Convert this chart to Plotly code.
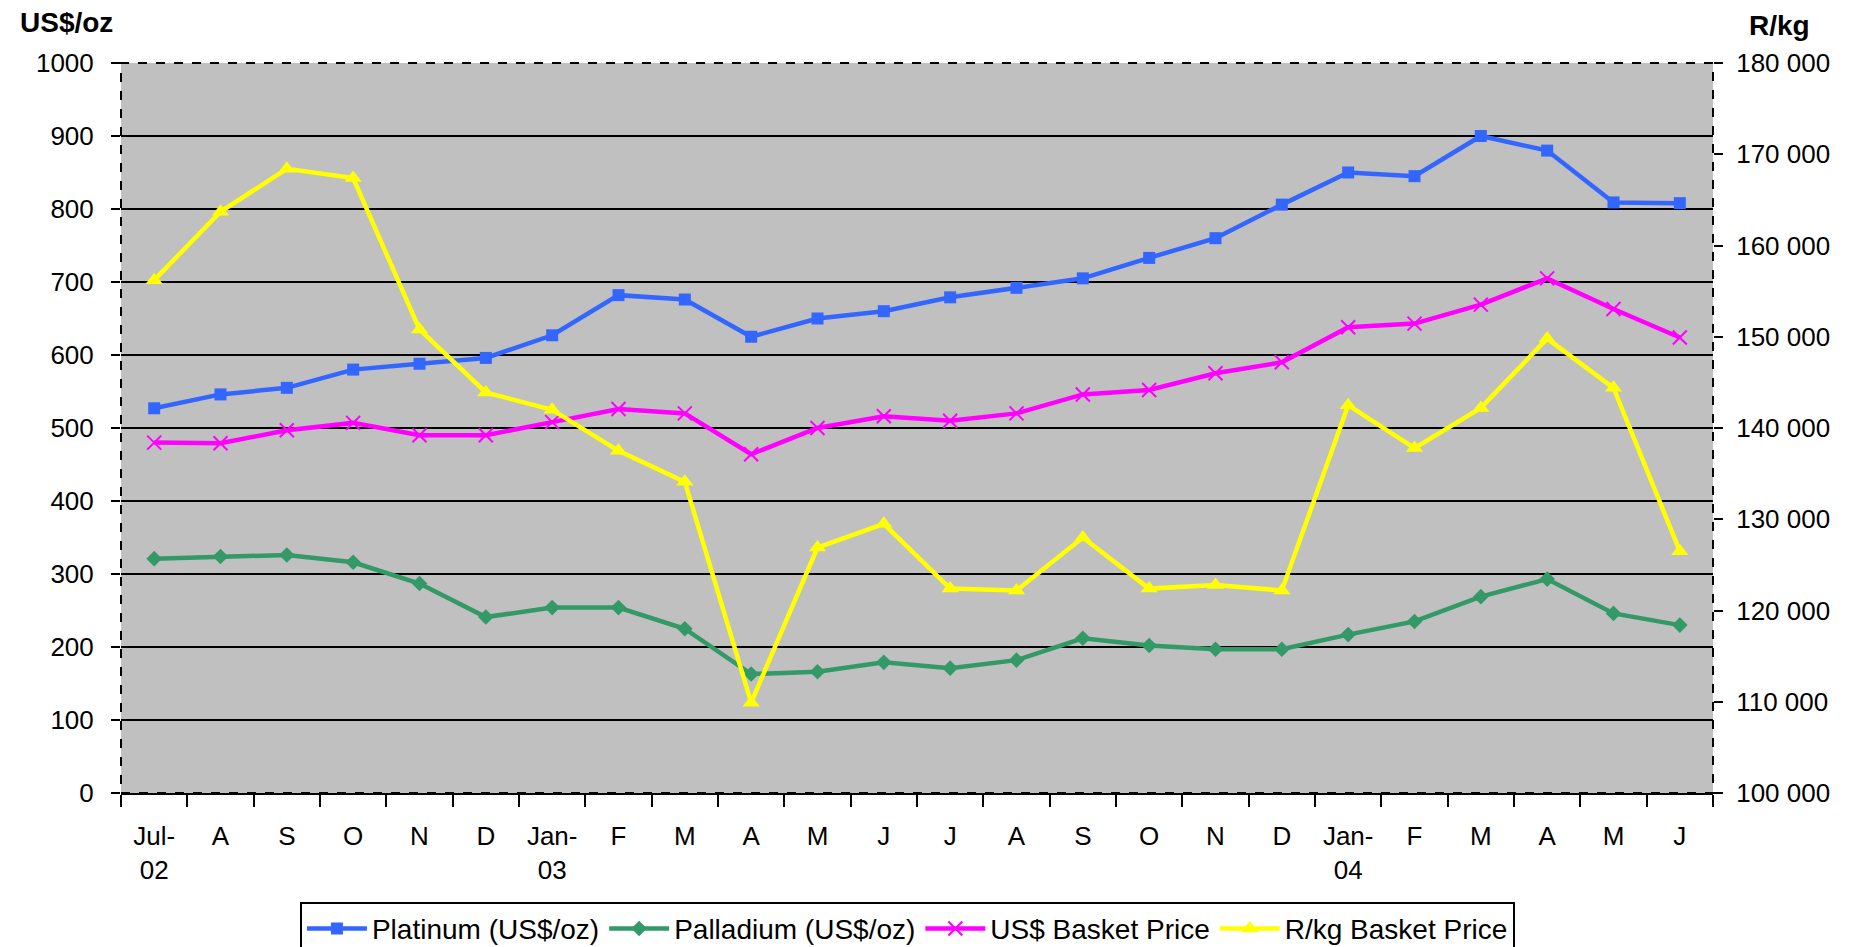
import plotly.graph_objects as go

# monthly averages Jul-02 .. Jun-04
months = list(range(24))
month_labels = [
    "Jul-<br>02", "A", "S", "O", "N", "D", "Jan-<br>03", "F", "M", "A", "M", "J",
    "J", "A", "S", "O", "N", "D", "Jan-<br>04", "F", "M", "A", "M", "J",
]

platinum = [527, 546, 555, 580, 588, 596, 627, 682, 676, 625, 650, 660,
            679, 692, 705, 733, 760, 806, 850, 845, 900, 880, 809, 808]
palladium = [321, 324, 326, 316, 287, 241, 254, 254, 225, 163, 166, 179,
             171, 182, 212, 202, 197, 197, 217, 235, 269, 293, 246, 230]
usd_basket = [480, 479, 497, 507, 490, 490, 508, 526, 520, 464, 500, 516,
              510, 520, 546, 552, 575, 590, 638, 643, 669, 705, 663, 624]
rkg_basket = [156200, 163700, 168400, 167400, 150800, 143900, 142000, 137500,
              134100, 109900, 126900, 129500, 122400, 122200, 128000, 122400,
              122800, 122200, 142500, 137800, 142200, 149800, 144400, 126500]

FONT = "Liberation Sans, Arial, sans-serif"

fig = go.Figure()

fig.add_trace(go.Scatter(
    x=months, y=platinum, name="Platinum (US$/oz)", mode="lines+markers",
    line=dict(color="#3366FF", width=4.5),
    marker=dict(symbol="square", size=12, color="#3366FF"),
))
fig.add_trace(go.Scatter(
    x=months, y=palladium, name="Palladium (US$/oz)", mode="lines+markers",
    line=dict(color="#339966", width=4.5),
    marker=dict(symbol="diamond", size=12, color="#339966"),
))
fig.add_trace(go.Scatter(
    x=months, y=usd_basket, name="US$ Basket Price", mode="lines+markers",
    line=dict(color="#FF00FF", width=4.5),
    marker=dict(symbol="x-thin", size=14, color="#FF00FF",
                line=dict(color="#FF00FF", width=2)),
))
fig.add_trace(go.Scatter(
    x=months, y=rkg_basket, name="R/kg Basket Price", mode="lines+markers",
    yaxis="y2",
    line=dict(color="#FFFF00", width=4.5),
    marker=dict(symbol="triangle-up", size=15, color="#FFFF00"),
))

# dashed border round the plot area
fig.add_shape(type="rect", xref="paper", yref="paper", x0=0, x1=1, y0=0, y1=1,
              line=dict(color="black", width=2, dash="dash"), layer="between")

# the page body adds an 8px margin, so the figure is 8px smaller each way
fig.update_layout(
    width=1856, height=939,
    margin=dict(l=113, r=151, t=55, b=154, autoexpand=False),
    paper_bgcolor="white",
    plot_bgcolor="#C0C0C0",
    font=dict(family=FONT, size=26, color="black"),
    separators=". ",
    showlegend=True,
    legend=dict(
        orientation="h", x=0.494, xanchor="center", y=-0.149, yanchor="top",
        bordercolor="black", borderwidth=2, bgcolor="white",
        font=dict(size=28), itemwidth=60, tracegroupgap=0,
    ),
    xaxis=dict(
        range=[-0.5, 23.5], tickmode="array", tickvals=months, ticktext=month_labels,
        ticks="outside", ticklen=19, tickcolor="rgba(0,0,0,0)",
        showgrid=False, zeroline=False,
        showline=True, linecolor="black", linewidth=2,
        minor=dict(tick0=-0.5, dtick=1, ticks="outside", ticklen=12,
                   tickwidth=2, tickcolor="black", showgrid=False),
    ),
    yaxis=dict(
        range=[0, 1000], dtick=100, tickformat="d",
        ticks="outside", ticklen=9, tickwidth=2, tickcolor="black",
        showgrid=True, gridcolor="black", gridwidth=2, zeroline=False,
        showline=False, ticklabelstandoff=12,
    ),
    yaxis2=dict(
        range=[100000, 180000], dtick=10000, tickformat=",d",
        overlaying="y", side="right",
        ticks="outside", ticklen=9, tickwidth=2, tickcolor="black",
        showgrid=False, zeroline=False, showline=False, ticklabelstandoff=8,
    ),
    annotations=[
        dict(text="<b>US$/oz</b>", xref="paper", yref="paper", x=-0.0345, y=1.056,
             xanchor="center", yanchor="middle", showarrow=False,
             font=dict(size=28)),
        dict(text="<b>R/kg</b>", xref="paper", yref="paper", x=1.0415, y=1.052,
             xanchor="center", yanchor="middle", showarrow=False,
             font=dict(size=28)),
    ],
)

fig.write_html("out.html")
